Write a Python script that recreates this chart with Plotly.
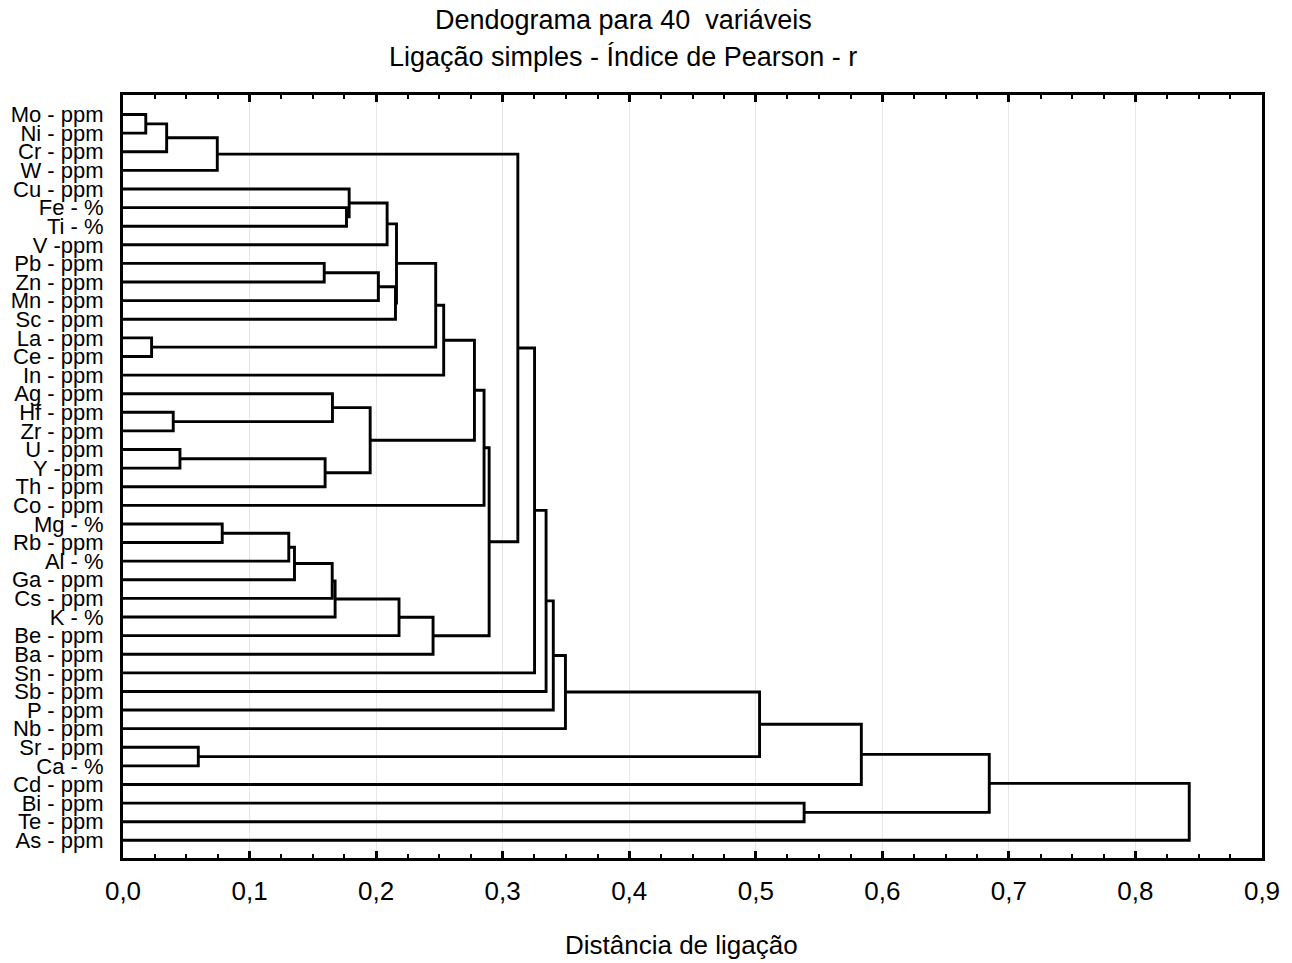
import plotly.graph_objects as go

# Variables in leaf order (top to bottom)
labels = [
    "Mo - ppm", "Ni - ppm", "Cr - ppm", "W - ppm", "Cu - ppm", "Fe - %", "Ti - %",
    "V -ppm", "Pb - ppm", "Zn - ppm", "Mn - ppm", "Sc - ppm", "La - ppm", "Ce - ppm",
    "In - ppm", "Ag - ppm", "Hf - ppm", "Zr - ppm", "U - ppm", "Y -ppm", "Th - ppm",
    "Co - ppm", "Mg - %", "Rb - ppm", "Al - %", "Ga - ppm", "Cs - ppm", "K - %",
    "Be - ppm", "Ba - ppm", "Sn - ppm", "Sb - ppm", "P - ppm", "Nb - ppm", "Sr - ppm",
    "Ca - %", "Cd - ppm", "Bi - ppm", "Te - ppm", "As - ppm",
]

# Single-linkage merges: cluster ids 0..39 are leaves, each merge creates id 40, 41, ...
merge_left = [0, 40, 41, 5, 4, 44, 8, 46, 47, 45, 12, 49, 51, 16, 15, 18, 55, 54,
              52, 58, 22, 60, 61, 62, 63, 64, 65, 59, 42, 68, 69, 70, 71, 34, 72,
              74, 37, 75, 77]
merge_right = [1, 2, 3, 6, 43, 7, 9, 10, 11, 48, 13, 50, 14, 17, 53, 19, 20, 56,
               57, 21, 23, 24, 25, 26, 27, 28, 29, 66, 67, 30, 31, 32, 33, 35, 73,
               36, 38, 76, 39]
merge_dist = [0.018, 0.0345, 0.0745, 0.1766, 0.1787, 0.2087, 0.159, 0.2018, 0.2153,
              0.2161, 0.0226, 0.2471, 0.2534, 0.0397, 0.1655, 0.045, 0.1597, 0.1953,
              0.2777, 0.2853, 0.0784, 0.131, 0.1355, 0.1653, 0.1676, 0.2181, 0.245,
              0.2893, 0.312, 0.3252, 0.3343, 0.340, 0.3496, 0.0595, 0.503, 0.5834,
              0.5382, 0.6845, 0.8425]

n = len(labels)
pos = {i: float(i) for i in range(n)}
height = {i: 0.0 for i in range(n)}

xs, ys = [], []
for k, (a, b, d) in enumerate(zip(merge_left, merge_right, merge_dist)):
    xs += [height[a], d, d, height[b], None]
    ys += [pos[a], pos[a], pos[b], pos[b], None]
    new_id = n + k
    pos[new_id] = (pos[a] + pos[b]) / 2
    height[new_id] = d

font_family = "Liberation Sans, Arial, sans-serif"

fig = go.Figure(
    go.Scatter(
        x=xs, y=ys, mode="lines",
        line=dict(color="black", width=2.9),
        hoverinfo="skip", showlegend=False,
    )
)

fig.update_layout(
    width=1292, height=963,
    margin=dict(l=123, r=30, t=95, b=105, autoexpand=False),
    paper_bgcolor="white", plot_bgcolor="white",
    separators=",.",
    font=dict(family=font_family, color="black"),
    annotations=[
        dict(text="Dendograma para 40  variáveis", xref="paper", yref="paper",
             x=0.439, y=1.098, xanchor="center", yanchor="middle",
             showarrow=False, font=dict(size=27, family=font_family)),
        dict(text="Ligação simples - Índice de Pearson - r", xref="paper", yref="paper",
             x=0.439, y=1.0498, xanchor="center", yanchor="middle",
             showarrow=False, font=dict(size=27, family=font_family)),
        dict(text="Distância de ligação", xref="paper", yref="paper",
             x=0.49, y=-0.114, xanchor="center", yanchor="middle",
             showarrow=False, font=dict(size=26, family=font_family)),
    ],
)

fig.update_xaxes(
    range=[0, 0.9], tick0=0, dtick=0.1, tickformat=".1f",
    showline=True, linecolor="black", linewidth=3, mirror="allticks",
    ticks="inside", ticklen=7, tickwidth=2.5, tickcolor="black",
    minor=dict(dtick=0.025, ticks="inside", ticklen=4, tickwidth=2,
               tickcolor="black", showgrid=False),
    showgrid=True, gridcolor="#e6e6e6", gridwidth=1, zeroline=False,
    tickfont=dict(size=26, family=font_family),
    ticklabelstandoff=8, automargin=False,
)

fig.update_yaxes(
    range=[39.95, -1.05], tickmode="array",
    tickvals=list(range(n)), ticktext=labels,
    showline=True, linecolor="black", linewidth=3, mirror=True,
    ticks="", showgrid=False, zeroline=False,
    tickfont=dict(size=22, family=font_family),
    ticklabelstandoff=12, automargin=False,
)

fig.write_html("out.html")
